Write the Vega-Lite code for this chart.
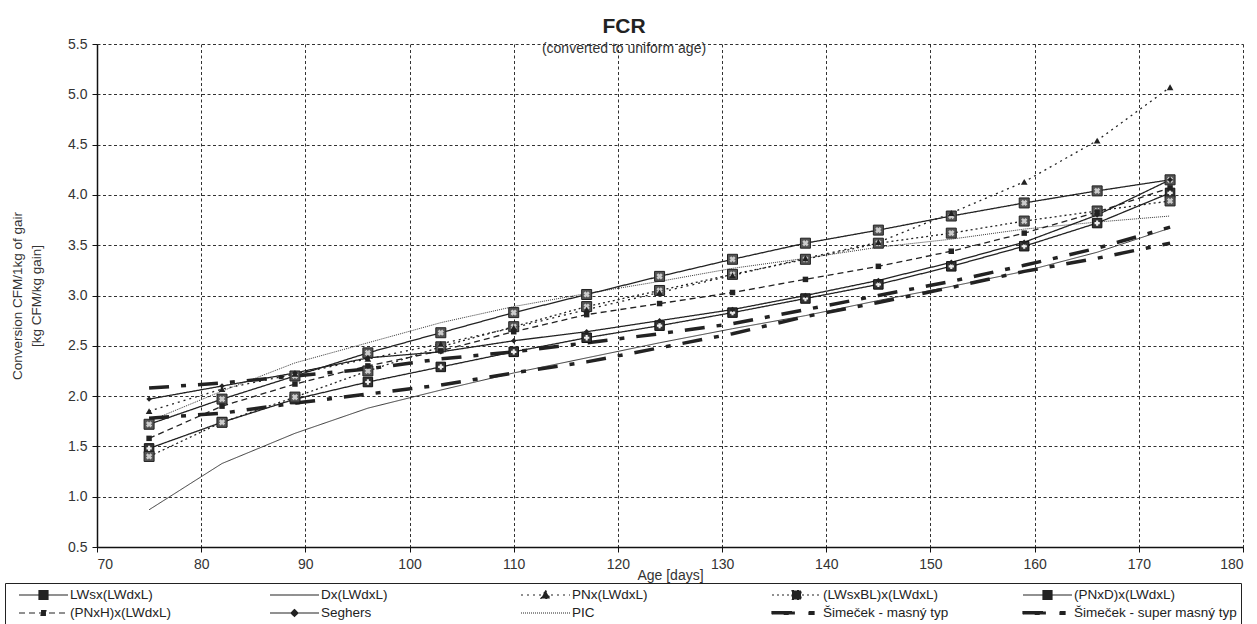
{
  "$schema": "https://vega.github.io/schema/vega-lite/v6.json",
  "width": 1146,
  "height": 503,
  "autosize": {"type": "none"},
  "padding": {"left": 97, "top": 44, "right": 14, "bottom": 77},
  "background": "white",
  "config": {
    "font": "Liberation Sans",
    "view": {"stroke": null},
    "axis": {
      "grid": true,
      "gridDash": [3, 2.5],
      "gridColor": "#1a1a1a",
      "gridWidth": 0.9,
      "domainColor": "#111",
      "domainWidth": 1.5,
      "tickColor": "#111",
      "tickSize": 5,
      "labelFontSize": 14,
      "labelColor": "#333",
      "labelFont": "Liberation Sans",
      "titleFont": "Liberation Sans",
      "titleFontWeight": "normal",
      "titleColor": "#333"
    }
  },
  "title": {
    "text": "FCR",
    "subtitle": "(converted to uniform  age)",
    "fontSize": 21,
    "fontWeight": "bold",
    "font": "Liberation Sans",
    "subtitleFont": "Liberation Sans",
    "subtitleFontSize": 14,
    "color": "#222",
    "subtitleColor": "#333",
    "anchor": "middle",
    "frame": "bounds",
    "offset": -19,
    "subtitlePadding": 5
  },
  "data": {
    "values": [
      {"s": "LWsx(LWdxL)", "a": 75, "v": 1.48}, {"s": "LWsx(LWdxL)", "a": 82, "v": 1.74}, {"s": "LWsx(LWdxL)", "a": 89, "v": 1.97}, {"s": "LWsx(LWdxL)", "a": 96, "v": 2.14}, {"s": "LWsx(LWdxL)", "a": 103, "v": 2.29}, {"s": "LWsx(LWdxL)", "a": 110, "v": 2.44}, {"s": "LWsx(LWdxL)", "a": 117, "v": 2.58}, {"s": "LWsx(LWdxL)", "a": 124, "v": 2.70}, {"s": "LWsx(LWdxL)", "a": 131, "v": 2.83}, {"s": "LWsx(LWdxL)", "a": 138, "v": 2.97}, {"s": "LWsx(LWdxL)", "a": 145, "v": 3.11}, {"s": "LWsx(LWdxL)", "a": 152, "v": 3.29}, {"s": "LWsx(LWdxL)", "a": 159, "v": 3.49}, {"s": "LWsx(LWdxL)", "a": 166, "v": 3.72}, {"s": "LWsx(LWdxL)", "a": 173, "v": 4.02},
      {"s": "Dx(LWdxL)", "a": 75, "v": 0.87}, {"s": "Dx(LWdxL)", "a": 82, "v": 1.33}, {"s": "Dx(LWdxL)", "a": 89, "v": 1.63}, {"s": "Dx(LWdxL)", "a": 96, "v": 1.88}, {"s": "Dx(LWdxL)", "a": 103, "v": 2.06}, {"s": "Dx(LWdxL)", "a": 110, "v": 2.23}, {"s": "Dx(LWdxL)", "a": 117, "v": 2.38}, {"s": "Dx(LWdxL)", "a": 124, "v": 2.53}, {"s": "Dx(LWdxL)", "a": 131, "v": 2.67}, {"s": "Dx(LWdxL)", "a": 138, "v": 2.80}, {"s": "Dx(LWdxL)", "a": 145, "v": 2.95}, {"s": "Dx(LWdxL)", "a": 152, "v": 3.09}, {"s": "Dx(LWdxL)", "a": 159, "v": 3.24}, {"s": "Dx(LWdxL)", "a": 166, "v": 3.43}, {"s": "Dx(LWdxL)", "a": 173, "v": 3.67},
      {"s": "PNx(LWdxL)", "a": 75, "v": 1.85}, {"s": "PNx(LWdxL)", "a": 82, "v": 2.07}, {"s": "PNx(LWdxL)", "a": 89, "v": 2.22}, {"s": "PNx(LWdxL)", "a": 96, "v": 2.37}, {"s": "PNx(LWdxL)", "a": 103, "v": 2.52}, {"s": "PNx(LWdxL)", "a": 110, "v": 2.68}, {"s": "PNx(LWdxL)", "a": 117, "v": 2.86}, {"s": "PNx(LWdxL)", "a": 124, "v": 3.03}, {"s": "PNx(LWdxL)", "a": 131, "v": 3.20}, {"s": "PNx(LWdxL)", "a": 138, "v": 3.37}, {"s": "PNx(LWdxL)", "a": 145, "v": 3.53}, {"s": "PNx(LWdxL)", "a": 152, "v": 3.82}, {"s": "PNx(LWdxL)", "a": 159, "v": 4.13}, {"s": "PNx(LWdxL)", "a": 166, "v": 4.54}, {"s": "PNx(LWdxL)", "a": 173, "v": 5.07},
      {"s": "(LWsxBL)x(LWdxL)", "a": 75, "v": 1.40}, {"s": "(LWsxBL)x(LWdxL)", "a": 82, "v": 1.74}, {"s": "(LWsxBL)x(LWdxL)", "a": 89, "v": 1.99}, {"s": "(LWsxBL)x(LWdxL)", "a": 96, "v": 2.25}, {"s": "(LWsxBL)x(LWdxL)", "a": 103, "v": 2.49}, {"s": "(LWsxBL)x(LWdxL)", "a": 110, "v": 2.69}, {"s": "(LWsxBL)x(LWdxL)", "a": 117, "v": 2.89}, {"s": "(LWsxBL)x(LWdxL)", "a": 124, "v": 3.05}, {"s": "(LWsxBL)x(LWdxL)", "a": 131, "v": 3.21}, {"s": "(LWsxBL)x(LWdxL)", "a": 138, "v": 3.36}, {"s": "(LWsxBL)x(LWdxL)", "a": 145, "v": 3.52}, {"s": "(LWsxBL)x(LWdxL)", "a": 152, "v": 3.62}, {"s": "(LWsxBL)x(LWdxL)", "a": 159, "v": 3.74}, {"s": "(LWsxBL)x(LWdxL)", "a": 166, "v": 3.84}, {"s": "(LWsxBL)x(LWdxL)", "a": 173, "v": 3.94},
      {"s": "(PNxD)x(LWdxL)", "a": 75, "v": 1.72}, {"s": "(PNxD)x(LWdxL)", "a": 82, "v": 1.97}, {"s": "(PNxD)x(LWdxL)", "a": 89, "v": 2.20}, {"s": "(PNxD)x(LWdxL)", "a": 96, "v": 2.43}, {"s": "(PNxD)x(LWdxL)", "a": 103, "v": 2.63}, {"s": "(PNxD)x(LWdxL)", "a": 110, "v": 2.83}, {"s": "(PNxD)x(LWdxL)", "a": 117, "v": 3.01}, {"s": "(PNxD)x(LWdxL)", "a": 124, "v": 3.19}, {"s": "(PNxD)x(LWdxL)", "a": 131, "v": 3.36}, {"s": "(PNxD)x(LWdxL)", "a": 138, "v": 3.52}, {"s": "(PNxD)x(LWdxL)", "a": 145, "v": 3.65}, {"s": "(PNxD)x(LWdxL)", "a": 152, "v": 3.79}, {"s": "(PNxD)x(LWdxL)", "a": 159, "v": 3.92}, {"s": "(PNxD)x(LWdxL)", "a": 166, "v": 4.04}, {"s": "(PNxD)x(LWdxL)", "a": 173, "v": 4.15},
      {"s": "(PNxH)x(LWdxL)", "a": 75, "v": 1.58}, {"s": "(PNxH)x(LWdxL)", "a": 82, "v": 1.90}, {"s": "(PNxH)x(LWdxL)", "a": 89, "v": 2.12}, {"s": "(PNxH)x(LWdxL)", "a": 96, "v": 2.30}, {"s": "(PNxH)x(LWdxL)", "a": 103, "v": 2.45}, {"s": "(PNxH)x(LWdxL)", "a": 110, "v": 2.64}, {"s": "(PNxH)x(LWdxL)", "a": 117, "v": 2.81}, {"s": "(PNxH)x(LWdxL)", "a": 124, "v": 2.92}, {"s": "(PNxH)x(LWdxL)", "a": 131, "v": 3.03}, {"s": "(PNxH)x(LWdxL)", "a": 138, "v": 3.16}, {"s": "(PNxH)x(LWdxL)", "a": 145, "v": 3.29}, {"s": "(PNxH)x(LWdxL)", "a": 152, "v": 3.44}, {"s": "(PNxH)x(LWdxL)", "a": 159, "v": 3.62}, {"s": "(PNxH)x(LWdxL)", "a": 166, "v": 3.83}, {"s": "(PNxH)x(LWdxL)", "a": 173, "v": 4.07},
      {"s": "Seghers", "a": 75, "v": 1.97}, {"s": "Seghers", "a": 82, "v": 2.10}, {"s": "Seghers", "a": 89, "v": 2.23}, {"s": "Seghers", "a": 96, "v": 2.38}, {"s": "Seghers", "a": 103, "v": 2.44}, {"s": "Seghers", "a": 110, "v": 2.55}, {"s": "Seghers", "a": 117, "v": 2.64}, {"s": "Seghers", "a": 124, "v": 2.75}, {"s": "Seghers", "a": 131, "v": 2.86}, {"s": "Seghers", "a": 138, "v": 3.00}, {"s": "Seghers", "a": 145, "v": 3.15}, {"s": "Seghers", "a": 152, "v": 3.33}, {"s": "Seghers", "a": 159, "v": 3.53}, {"s": "Seghers", "a": 166, "v": 3.80}, {"s": "Seghers", "a": 173, "v": 4.15},
      {"s": "PIC", "a": 75, "v": 1.75}, {"s": "PIC", "a": 82, "v": 2.05}, {"s": "PIC", "a": 89, "v": 2.33}, {"s": "PIC", "a": 96, "v": 2.53}, {"s": "PIC", "a": 103, "v": 2.73}, {"s": "PIC", "a": 110, "v": 2.89}, {"s": "PIC", "a": 117, "v": 3.02}, {"s": "PIC", "a": 124, "v": 3.14}, {"s": "PIC", "a": 131, "v": 3.27}, {"s": "PIC", "a": 138, "v": 3.37}, {"s": "PIC", "a": 145, "v": 3.48}, {"s": "PIC", "a": 152, "v": 3.56}, {"s": "PIC", "a": 159, "v": 3.66}, {"s": "PIC", "a": 166, "v": 3.73}, {"s": "PIC", "a": 173, "v": 3.79},
      {"s": "Šimeček - masný typ", "a": 75, "v": 2.08}, {"s": "Šimeček - masný typ", "a": 82, "v": 2.13}, {"s": "Šimeček - masný typ", "a": 89, "v": 2.20}, {"s": "Šimeček - masný typ", "a": 96, "v": 2.27}, {"s": "Šimeček - masný typ", "a": 103, "v": 2.37}, {"s": "Šimeček - masný typ", "a": 110, "v": 2.44}, {"s": "Šimeček - masný typ", "a": 117, "v": 2.53}, {"s": "Šimeček - masný typ", "a": 124, "v": 2.62}, {"s": "Šimeček - masný typ", "a": 131, "v": 2.72}, {"s": "Šimeček - masný typ", "a": 138, "v": 2.86}, {"s": "Šimeček - masný typ", "a": 145, "v": 3.00}, {"s": "Šimeček - masný typ", "a": 152, "v": 3.14}, {"s": "Šimeček - masný typ", "a": 159, "v": 3.30}, {"s": "Šimeček - masný typ", "a": 166, "v": 3.47}, {"s": "Šimeček - masný typ", "a": 173, "v": 3.68},
      {"s": "Šimeček - super masný typ", "a": 75, "v": 1.78}, {"s": "Šimeček - super masný typ", "a": 82, "v": 1.83}, {"s": "Šimeček - super masný typ", "a": 89, "v": 1.93}, {"s": "Šimeček - super masný typ", "a": 96, "v": 2.02}, {"s": "Šimeček - super masný typ", "a": 103, "v": 2.11}, {"s": "Šimeček - super masný typ", "a": 110, "v": 2.23}, {"s": "Šimeček - super masný typ", "a": 117, "v": 2.34}, {"s": "Šimeček - super masný typ", "a": 124, "v": 2.48}, {"s": "Šimeček - super masný typ", "a": 131, "v": 2.62}, {"s": "Šimeček - super masný typ", "a": 138, "v": 2.79}, {"s": "Šimeček - super masný typ", "a": 145, "v": 2.93}, {"s": "Šimeček - super masný typ", "a": 152, "v": 3.08}, {"s": "Šimeček - super masný typ", "a": 159, "v": 3.24}, {"s": "Šimeček - super masný typ", "a": 166, "v": 3.37}, {"s": "Šimeček - super masný typ", "a": 173, "v": 3.52}
    ]
  },
  "encoding": {
    "x": {
      "field": "a",
      "type": "quantitative",
      "scale": {"domain": [70, 180], "nice": false, "zero": false},
      "axis": {
        "title": "Age [days]",
        "values": [70, 80, 90, 100, 110, 120, 130, 140, 150, 160, 170, 180],
        "format": "d",
        "labelPadding": 5,
        "titleFontSize": 14,
        "titlePadding": -3
      }
    },
    "y": {
      "field": "v",
      "type": "quantitative",
      "scale": {"domain": [0.5, 5.5], "nice": false, "zero": false},
      "axis": {
        "title": ["Conversion CFM/1kg of gair", "[kg CFM/kg gain]"],
        "values": [0.5, 1, 1.5, 2, 2.5, 3, 3.5, 4, 4.5, 5, 5.5],
        "format": ".1f",
        "labelPadding": 5,
        "titleFontSize": 13.5,
        "titleLineHeight": 19,
        "titlePadding": 24
      }
    }
  },
  "layer": [
    {
      "transform": [{"filter": {"field": "s", "oneOf": ["LWsx(LWdxL)", "PNx(LWdxL)", "(LWsxBL)x(LWdxL)", "(PNxD)x(LWdxL)", "(PNxH)x(LWdxL)", "Seghers"]}}],
      "mark": {"type": "line", "color": "#222", "strokeCap": "butt", "strokeWidth": 1.3},
      "encoding": {
        "strokeDash": {
          "field": "s",
          "type": "nominal",
          "scale": {
            "domain": ["LWsx(LWdxL)", "Dx(LWdxL)", "PNx(LWdxL)", "(LWsxBL)x(LWdxL)", "(PNxD)x(LWdxL)", "(PNxH)x(LWdxL)", "Seghers", "PIC", "Šimeček - masný typ", "Šimeček - super masný typ"],
            "range": [[1, 0], [1, 0], [2, 4], [2, 3], [1, 0], [6, 4], [1, 0], [1, 1], [20, 12, 5, 12], [20, 12, 5, 12]]
          },
          "legend": {
            "title": null,
            "orient": "none",
            "legendX": -92,
            "legendY": 539,
            "columns": 5,
            "direction": "horizontal",
            "gridAlign": "all",
            "columnPadding": 27,
            "rowPadding": 2,
            "padding": 4,
            "strokeColor": "#222",
            "symbolType": "stroke",
            "symbolSize": 3364,
            "symbolStrokeWidth": 1.2,
            "clipHeight": 16,
            "labelFontSize": 13.5,
            "labelColor": "#222",
            "labelFont": "Liberation Sans",
            "labelOffset": 1,
            "labelLimit": 300,
            "symbolStrokeColor": "#222",
            "encode": {
              "symbols": {
                "update": {
                  "shape": {"signal": "(datum.value === 'LWsx(LWdxL)' || datum.value === '(LWsxBL)x(LWdxL)' || datum.value === '(PNxD)x(LWdxL)') ? 'M-0.69,0H1M0,-0.155H0.31V0.155H0Z' : datum.value === 'PNx(LWdxL)' ? 'M-0.69,0H1M0.155,-0.16L0.31,0.12H0Z' : datum.value === '(PNxH)x(LWdxL)' ? 'M-0.69,0H1M0.07,-0.086H0.24V0.086H0.07Z' : datum.value === 'Seghers' ? 'M-0.69,0H1M0.155,-0.12L0.275,0L0.155,0.12L0.035,0Z' : datum.value === 'Dx(LWdxL)' || datum.value === 'PIC' ? 'M-0.69,0H1' : 'M-0.69,-0.05H0.1V0.05H-0.69ZM0.586,-0.05H0.76V0.05H0.586Z'"},
                  "fill": {"value": "#222"},
                  "stroke": {"value": "#222"}
                }
              }
            }
          }
        }
      }
    },
    {
      "transform": [{"filter": {"field": "s", "oneOf": ["Dx(LWdxL)", "PIC"]}}],
      "mark": {"type": "line", "color": "#222", "strokeCap": "butt", "strokeWidth": 0.9},
      "encoding": {
        "strokeDash": {
          "field": "s",
          "type": "nominal",
          "scale": {
            "domain": ["LWsx(LWdxL)", "Dx(LWdxL)", "PNx(LWdxL)", "(LWsxBL)x(LWdxL)", "(PNxD)x(LWdxL)", "(PNxH)x(LWdxL)", "Seghers", "PIC", "Šimeček - masný typ", "Šimeček - super masný typ"],
            "range": [[1, 0], [1, 0], [2, 4], [2, 3], [1, 0], [6, 4], [1, 0], [1, 1], [20, 12, 5, 12], [20, 12, 5, 12]]
          }
        }
      }
    },
    {
      "transform": [{"filter": {"field": "s", "oneOf": ["Šimeček - masný typ", "Šimeček - super masný typ"]}}],
      "mark": {"type": "line", "color": "#222", "strokeCap": "butt", "strokeWidth": 3.5},
      "encoding": {
        "strokeDash": {
          "field": "s",
          "type": "nominal",
          "scale": {
            "domain": ["LWsx(LWdxL)", "Dx(LWdxL)", "PNx(LWdxL)", "(LWsxBL)x(LWdxL)", "(PNxD)x(LWdxL)", "(PNxH)x(LWdxL)", "Seghers", "PIC", "Šimeček - masný typ", "Šimeček - super masný typ"],
            "range": [[1, 0], [1, 0], [2, 4], [2, 3], [1, 0], [6, 4], [1, 0], [1, 1], [20, 12, 5, 12], [20, 12, 5, 12]]
          }
        }
      }
    },
    {
      "transform": [{"filter": {"field": "s", "oneOf": ["LWsx(LWdxL)"]}}],
      "mark": {"type": "square", "size": 90, "fill": "#333", "stroke": "#111", "strokeWidth": 1, "opacity": 1}
    },
    {
      "transform": [{"filter": {"field": "s", "oneOf": ["LWsx(LWdxL)"]}}],
      "mark": {"type": "point", "shape": "cross", "size": 28, "filled": true, "color": "#eee", "opacity": 1}
    },
    {
      "transform": [{"filter": {"field": "s", "oneOf": ["(LWsxBL)x(LWdxL)", "(PNxD)x(LWdxL)"]}}],
      "mark": {"type": "square", "size": 100, "fill": "#555", "stroke": "#222", "strokeWidth": 1, "opacity": 1}
    },
    {
      "transform": [{"filter": {"field": "s", "oneOf": ["(LWsxBL)x(LWdxL)", "(PNxD)x(LWdxL)"]}}],
      "mark": {"type": "point", "shape": "cross", "angle": 45, "size": 40, "filled": true, "color": "#ccc", "opacity": 1}
    },
    {
      "transform": [{"filter": {"field": "s", "oneOf": ["PNx(LWdxL)"]}}],
      "mark": {"type": "point", "shape": "triangle-up", "size": 45, "filled": true, "color": "#222", "opacity": 1}
    },
    {
      "transform": [{"filter": {"field": "s", "oneOf": ["(PNxH)x(LWdxL)"]}}],
      "mark": {"type": "square", "size": 30, "color": "#222", "opacity": 1}
    },
    {
      "transform": [{"filter": {"field": "s", "oneOf": ["Seghers"]}}],
      "mark": {"type": "point", "shape": "diamond", "size": 30, "filled": true, "color": "#222", "opacity": 1}
    }
  ]
}
